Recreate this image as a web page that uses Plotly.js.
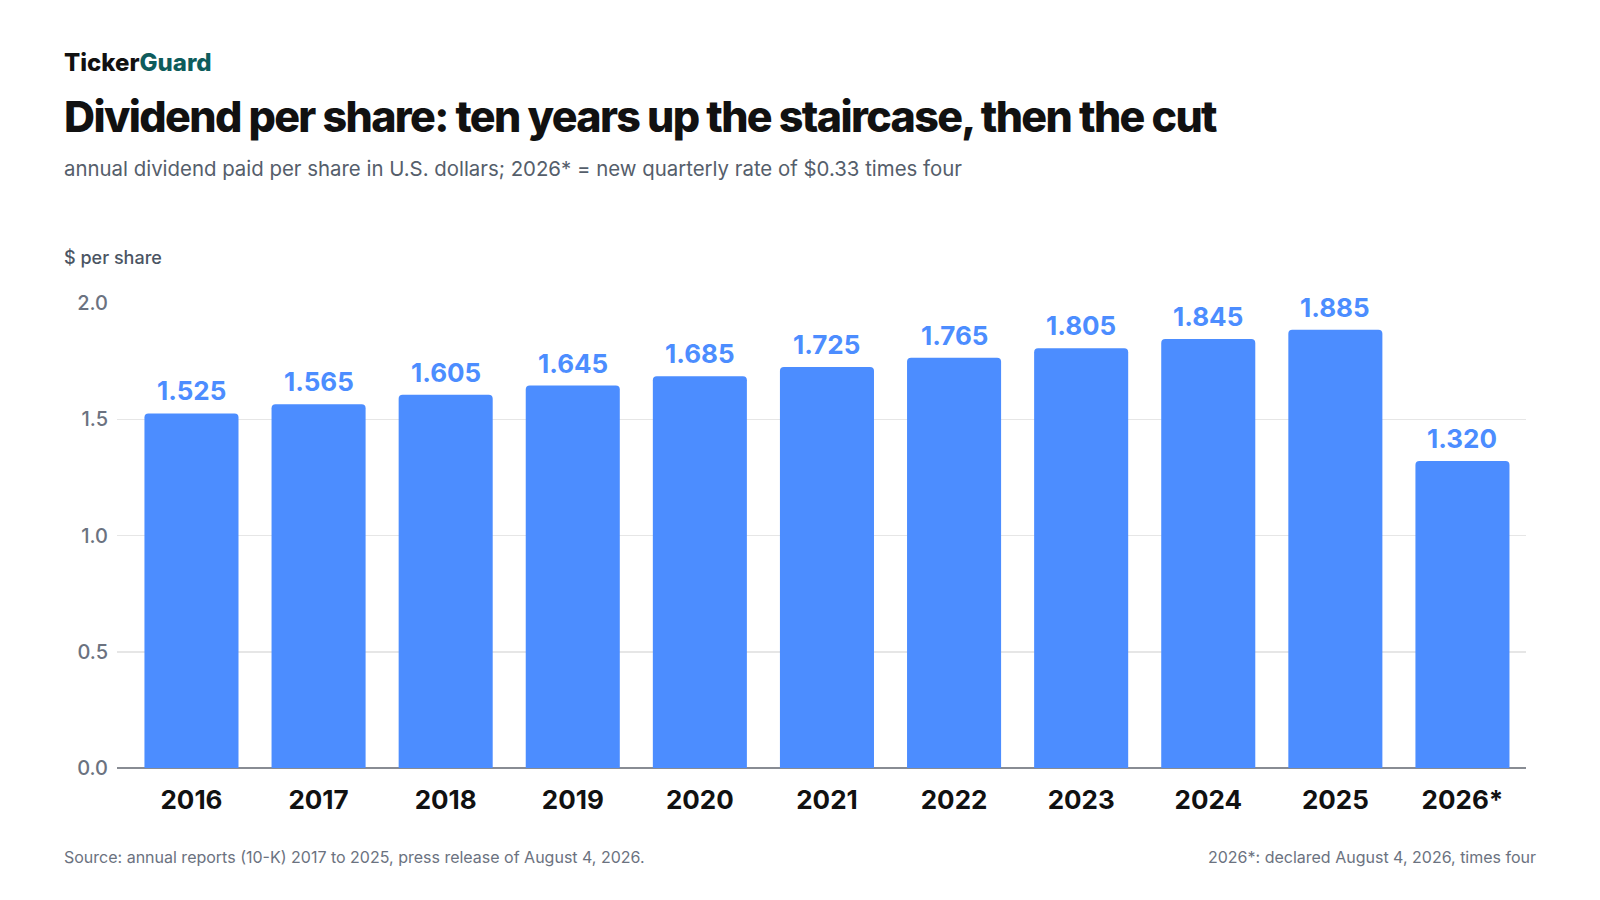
<!DOCTYPE html>
<html><head><meta charset="utf-8">
<script src="https://cdn.plot.ly/plotly-3.0.1.min.js"></script>
<style>html,body{margin:0;padding:0;background:#fff;}#chart{width:1600px;height:900px;}
.gtitle{letter-spacing:-1.65px;}
</style>
</head><body><div id="chart"></div>
<script>
const years = ["2016","2017","2018","2019","2020","2021","2022","2023","2024","2025","2026*"];
const dividends = [1.525,1.565,1.605,1.645,1.685,1.725,1.765,1.805,1.845,1.885,1.320];
const valueLabels = ["1.525","1.565","1.605","1.645","1.685","1.725","1.765","1.805","1.845","1.885","1.320"];
const yTicks = [0,0.5,1.0,1.5,2.0];
const yTickLabels = ["0.0","0.5","1.0","1.5","2.0"];

const W=1600,H=900,L=117,R=74,T=303,B=132;
const pw=W-L-R, ph=H-T-B;
const px=x=>(x-L)/pw, py=y=>(H-B-y)/ph;
const BLUE="#4C8DFF";
const FONT="Inter, 'Noto Sans', sans-serif";

const ann = years.map((c,i)=>({
  x:i, y:dividends[i], xref:'x', yref:'y', text:valueLabels[i], showarrow:false,
  yanchor:'bottom', yshift:5, font:{family:FONT,size:26,color:BLUE,weight:700}
}));
ann.push(
  {xref:'paper',yref:'paper',x:px(62),y:py(62),xanchor:'left',yanchor:'middle',showarrow:false,
   text:"Ticker<span style='color:#0E5C5C'>Guard</span>",
   font:{family:FONT,size:24,color:'#111111',weight:800}},
  {xref:'paper',yref:'paper',x:px(62),y:py(168),xanchor:'left',yanchor:'middle',showarrow:false,
   text:"annual dividend paid per share in U.S. dollars; 2026* = new quarterly rate of $0.33 times four",
   font:{family:FONT,size:20.4,color:'#555E6B'}},
  {xref:'paper',yref:'paper',x:px(62),y:py(257),xanchor:'left',yanchor:'middle',showarrow:false,
   text:"$ per share", font:{family:FONT,size:18,color:'#4B5563',weight:500}},
  {xref:'paper',yref:'paper',x:px(62),y:py(857),xanchor:'left',yanchor:'middle',showarrow:false,
   text:"Source: annual reports (10-K) 2017 to 2025, press release of August 4, 2026.",
   font:{family:FONT,size:16,color:'#6B7280'}},
  {xref:'paper',yref:'paper',x:px(1538),y:py(857),xanchor:'right',yanchor:'middle',showarrow:false,
   text:"2026*: declared August 4, 2026, times four",
   font:{family:FONT,size:16,color:'#6B7280'}}
);

const trace = {type:'bar', x:years, y:dividends, marker:{color:BLUE}, hoverinfo:'skip', cliponaxis:false};

const layout = {
  width:W, height:H, margin:{l:L,r:R,t:T,b:B,pad:0},
  paper_bgcolor:'#fff', plot_bgcolor:'#fff', showlegend:false,
  bargap:0.26, barcornerradius:4,
  title:{text:"Dividend per share: ten years up the staircase, then the cut",
    x:64/W, xanchor:'left', xref:'container', y:1-117/H, yanchor:'middle', yref:'container',
    font:{family:FONT,size:43,color:'#111111',weight:800}},
  xaxis:{type:'category', range:[-0.586,10.5], showgrid:false, zeroline:false, showline:false, ticks:'',
    tickfont:{family:FONT,size:26,color:'#111111',weight:700}, ticklabelstandoff:14, fixedrange:true},
  yaxis:{range:[0,2.0], tickvals:yTicks, ticktext:yTickLabels, showgrid:true, gridcolor:'#E6E6E6', gridwidth:1.5,
    zeroline:true, zerolinecolor:'#888C93', zerolinewidth:2, showline:false, ticks:'',
    tickfont:{family:FONT,size:20,color:'#6B7280',weight:500}, ticklabelstandoff:8, fixedrange:true},
  annotations:ann,
  font:{family:FONT}
};
Plotly.newPlot('chart',[trace],layout,{displayModeBar:false,staticPlot:true});
</script></body></html>
